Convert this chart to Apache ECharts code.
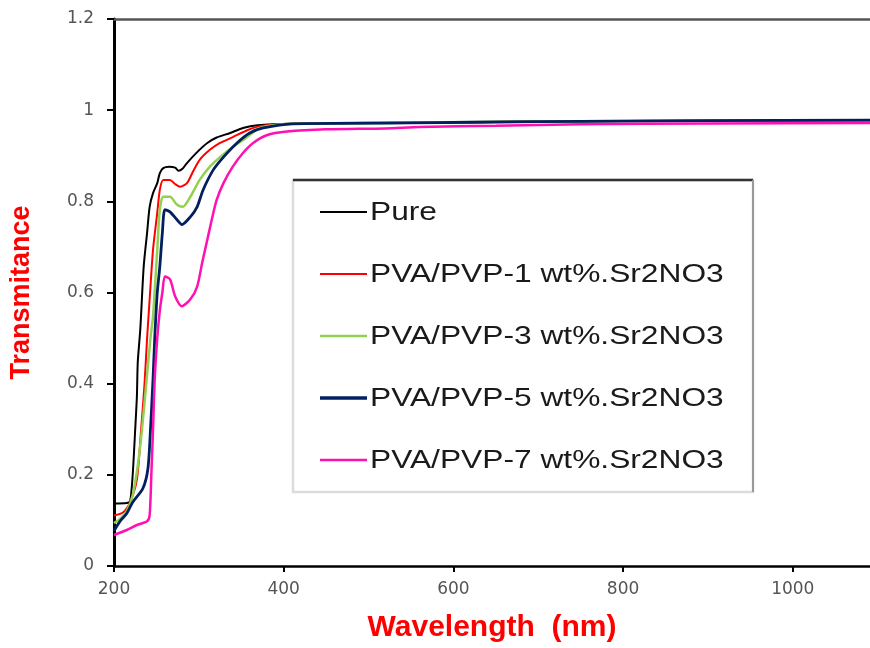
<!DOCTYPE html>
<html>
<head>
<meta charset="utf-8">
<script src="https://cdn.jsdelivr.net/npm/echarts@6/dist/echarts.min.js"></script>
<style>
  html, body { margin: 0; padding: 0; background: #fff; }
  #chart { width: 870px; height: 648px; }
</style>
</head>
<body>
<div id="chart"></div>
<script>
// Transmittance spectra (wavelength in nm, transmittance as fraction)
const seriesNames = [
  'Pure',
  'PVA/PVP-1 wt%.Sr2NO3',
  'PVA/PVP-3 wt%.Sr2NO3',
  'PVA/PVP-5 wt%.Sr2NO3',
  'PVA/PVP-7 wt%.Sr2NO3'
];
const seriesColors = ['#000000', '#ff0000', '#92d050', '#002060', '#ff10b0'];
const seriesWidths = [2, 2, 2.5, 2.8, 2.5];

const wlPure = [200, 215, 219, 222, 225, 227, 228, 231, 235, 239, 242, 246, 251, 254, 258, 265, 272, 276, 281, 286, 298, 310, 321, 337, 352, 369, 410, 550, 700, 900, 1091];
const tPure  = [0.137, 0.138, 0.142, 0.199, 0.300, 0.373, 0.447, 0.520, 0.657, 0.731, 0.788, 0.818, 0.840, 0.862, 0.873, 0.876, 0.874, 0.867, 0.872, 0.884, 0.908, 0.928, 0.940, 0.950, 0.961, 0.967, 0.970, 0.972, 0.975, 0.977, 0.978];

const wl1 = [200, 211, 219, 227, 232, 236, 239, 242, 246, 251, 254, 258, 266, 272, 278, 286, 293, 301, 313, 325, 340, 357, 372, 410, 550, 700, 900, 1091];
const t1  = [0.111, 0.118, 0.140, 0.190, 0.300, 0.400, 0.500, 0.585, 0.694, 0.775, 0.825, 0.847, 0.847, 0.838, 0.832, 0.840, 0.865, 0.891, 0.913, 0.928, 0.941, 0.956, 0.965, 0.970, 0.973, 0.975, 0.977, 0.978];

const wl3 = [200, 208, 215, 222, 228, 233, 238, 243, 246, 251, 254, 258, 266, 274, 281, 290, 301, 313, 325, 340, 357, 372, 410, 550, 700, 900, 1091];
const t3  = [0.094, 0.105, 0.120, 0.155, 0.220, 0.300, 0.400, 0.500, 0.548, 0.694, 0.782, 0.810, 0.810, 0.793, 0.788, 0.810, 0.847, 0.876, 0.897, 0.919, 0.941, 0.961, 0.970, 0.973, 0.975, 0.977, 0.978];

const wl5 = [200, 207, 215, 222, 234, 240, 243, 246, 248, 251, 254, 257, 260, 266, 274, 280, 290, 298, 305, 317, 329, 345, 360, 376, 410, 550, 700, 900, 1091];
const t5  = [0.077, 0.098, 0.115, 0.140, 0.170, 0.214, 0.300, 0.410, 0.500, 0.600, 0.657, 0.731, 0.782, 0.777, 0.760, 0.749, 0.766, 0.788, 0.825, 0.869, 0.897, 0.928, 0.950, 0.961, 0.970, 0.972, 0.975, 0.977, 0.978];

const wl7 = [200, 215, 227, 239, 242, 244, 246, 248, 251, 254, 257, 260, 266, 272, 280, 290, 298, 304, 310, 316, 321, 329, 340, 352, 364, 380, 404, 450, 520, 560, 650, 750, 900, 1091];
const t7  = [0.068, 0.079, 0.090, 0.098, 0.111, 0.200, 0.300, 0.410, 0.500, 0.560, 0.600, 0.635, 0.629, 0.592, 0.570, 0.585, 0.613, 0.666, 0.716, 0.766, 0.803, 0.840, 0.876, 0.906, 0.928, 0.945, 0.953, 0.958, 0.960, 0.963, 0.966, 0.969, 0.971, 0.972];

// Axis ranges and tick labels
const xMin = 200, xMax = 1091, xStep = 200;
const yMin = 0, yMax = 1.2, yStep = 0.2;
const xTickLabels = ['200', '400', '600', '800', '1000'];
const yTickLabels = ['0', '0.2', '0.4', '0.6', '0.8', '1', '1.2'];

const wlSets = [wlPure, wl1, wl3, wl5, wl7];
const tSets = [tPure, t1, t3, t5, t7];

const series = seriesNames.map((name, k) => ({
  name: name,
  type: 'line',
  smooth: 0.25,
  symbol: 'none',
  silent: true,
  data: wlSets[k].map((w, i) => [w, tSets[k][i]]),
  lineStyle: { color: seriesColors[k], width: seriesWidths[k] },
  itemStyle: { color: seriesColors[k] }
}));

// Legend box drawn as graphics
const legendLeft = 293, legendTop = 180, legendW = 460, legendH = 312;
const rowY0 = 212, rowStep = 62;
const legendChildren = [
  { type: 'rect', shape: { x: legendLeft, y: legendTop, width: legendW, height: legendH },
    style: { fill: '#fff', stroke: '#dcdcdc', lineWidth: 2.5 } },
  { type: 'line', shape: { x1: legendLeft, y1: legendTop, x2: legendLeft + legendW, y2: legendTop },
    style: { stroke: '#333', lineWidth: 2.5 } },
  { type: 'line', shape: { x1: legendLeft + legendW, y1: legendTop, x2: legendLeft + legendW, y2: legendTop + legendH },
    style: { stroke: '#999', lineWidth: 2 } }
];
seriesNames.forEach((name, k) => {
  const y = rowY0 + k * rowStep;
  legendChildren.push({
    type: 'line',
    shape: { x1: 320, y1: y, x2: 367, y2: y },
    style: { stroke: seriesColors[k], lineWidth: k === 3 ? 3.5 : seriesWidths[k] }
  });
  legendChildren.push({
    type: 'text',
    x: 370, y: y + 1,
    scaleX: 1.22,
    style: {
      text: name, fill: '#1a1a1a',
      font: '26px "Liberation Sans", Arial, sans-serif',
      textVerticalAlign: 'middle', textAlign: 'left'
    }
  });
});

const chart = echarts.init(document.getElementById('chart'), null, { renderer: 'canvas' });
chart.setOption({
  animation: false,
  backgroundColor: '#ffffff',
  grid: { left: 114, right: 0, top: 19, bottom: 80, containLabel: false },
  xAxis: [{
    type: 'value',
    min: xMin, max: xMax, interval: xStep,
    name: 'Wavelength  (nm)',
    nameLocation: 'middle',
    nameGap: 47,
    nameTextStyle: { color: '#ff0000', fontWeight: 'bold', fontSize: 30, fontFamily: '"Liberation Sans", Arial, sans-serif' },
    axisLine: { show: true, onZero: false, lineStyle: { color: '#000', width: 2.5 } },
    axisTick: { show: true, inside: false, length: 6, lineStyle: { color: '#000', width: 2 } },
    axisLabel: {
      showMaxLabel: false,
      margin: 15,
      color: '#555',
      fontSize: 17,
      fontFamily: '"DejaVu Sans", sans-serif',
      formatter: v => xTickLabels[Math.round((v - xMin) / xStep)] || ''
    },
    splitLine: { show: false }
  }, {
    type: 'value',
    position: 'top',
    min: xMin, max: xMax, interval: xStep,
    axisLine: { show: true, onZero: false, lineStyle: { color: '#555', width: 2.5 } },
    axisTick: { show: false },
    axisLabel: { show: false },
    splitLine: { show: false }
  }],
  yAxis: {
    type: 'value',
    min: yMin, max: yMax, interval: yStep,
    name: 'Transmitance',
    nameLocation: 'middle',
    nameGap: 79,
    nameTextStyle: { color: '#ff0000', fontWeight: 'bold', fontSize: 27, fontFamily: '"Liberation Sans", Arial, sans-serif' },
    axisLine: { show: true, onZero: false, lineStyle: { color: '#000', width: 3 } },
    axisTick: { show: true, inside: false, length: 7, lineStyle: { color: '#000', width: 2 } },
    axisLabel: {
      margin: 20,
      color: '#555',
      fontSize: 17,
      fontFamily: '"DejaVu Sans", sans-serif',
      formatter: v => yTickLabels[Math.round((v - yMin) / yStep)] || ''
    },
    splitLine: { show: false }
  },
  series: series,
  graphic: [{ type: 'group', children: legendChildren }]
});
</script>
</body>
</html>
